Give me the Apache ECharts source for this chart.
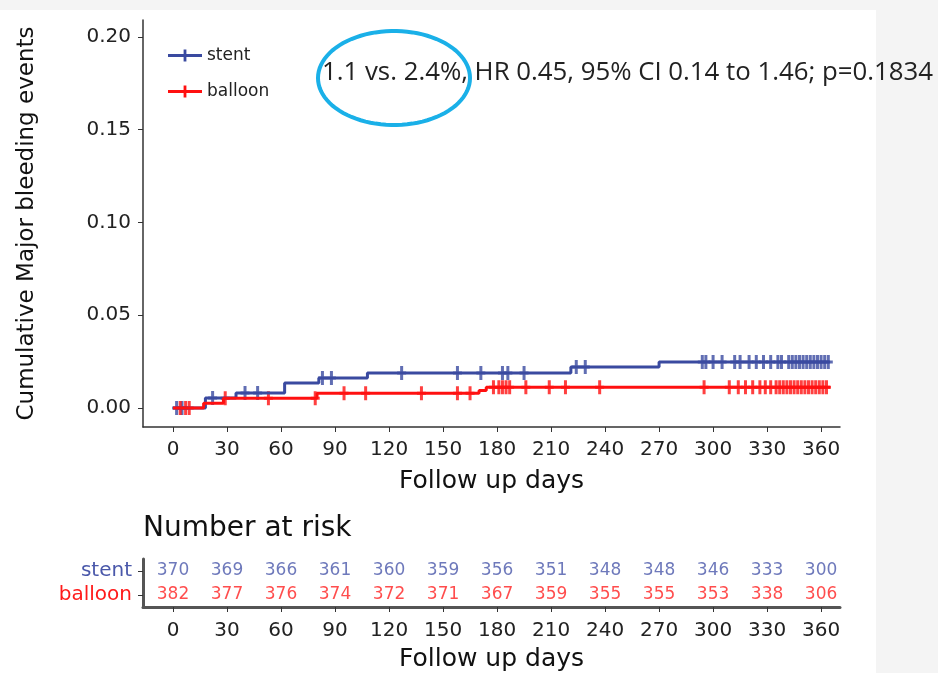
<!DOCTYPE html>
<html><head><meta charset="utf-8">
<script src="https://cdn.jsdelivr.net/npm/echarts@6/dist/echarts.min.js"></script>
<style>html,body{margin:0;padding:0;background:#f4f4f4;}#c{width:938px;height:673px;}</style>
</head><body><div id="c"></div>
<script>
// ---- data ----
var xTicks = [0,30,60,90,120,150,180,210,240,270,300,330,360];
var yTicks = [0,0.05,0.10,0.15,0.20];
var stentTimes  = [0, 18, 35, 62, 81, 108, 221, 270, 365];
var stentValues = [0, 0.0054, 0.0081, 0.0135, 0.0162, 0.0189, 0.0221, 0.0248, 0.0248];
var balloonTimes  = [0, 17, 28, 80, 170, 174, 365];
var balloonValues = [0, 0.0026, 0.0052, 0.0079, 0.0094, 0.0112, 0.0112];
var stentCensor = [2,5,22,40,47,83,88,127,158,171,183,186,195,224,229,294,296,300,305,312,315,320,324,328,332,336,338,342,344,346,348,350,352,354,356,358,360,362,364];
var balloonCensor = [4,7,9,29,53,79,95,107,138,158,165,178,181,183,185,187,196,209,218,237,295,309,314,318,322,326,329,332,335,337,339,341,343,345,347,349,351,353,355,357,359,361,363];
var riskTimes = [0,30,60,90,120,150,180,210,240,270,300,330,360];
var stentRisk   = [370,369,366,361,360,359,356,351,348,348,346,333,300];
var balloonRisk = [382,377,376,374,372,371,367,359,355,355,353,338,306];
var groups = ['balloon','stent'];

var BLUE = '#3a4aa0', RED = '#ff1010';
var FONT = 'DejaVu Sans';

function stepAt(times, values, t){
  var v = values[0];
  for (var i=0;i<times.length;i++){ if (times[i] <= t) v = values[i]; }
  return v;
}
function pairs(a,b){ return a.map(function(t,i){return [t,b[i]];}); }

var plus = 'path://M-1.5,-7H1.5V-1.5H4.5V1.5H1.5V7H-1.5V1.5H-4.5V-1.5H-1.5Z';
var legendIcon = 'path://M0,4.6H15.6V0H18.4V4.6H34V7.4H18.4V12H15.6V7.4H0Z';

var ell = [];
for (var k=0;k<=90;k++){ var a=k/90*2*Math.PI; ell.push([394+76*Math.cos(a), 78+47*Math.sin(a)]); }

var chart = echarts.init(document.getElementById('c'));
var riskData = [];
riskTimes.forEach(function(t,i){
  riskData.push({value:[t,'stent',stentRisk[i]], label:{color:'#4a58aa'}});
  riskData.push({value:[t,'balloon',balloonRisk[i]], label:{color:'#ff2020'}});
});

chart.setOption({
  animation:false,
  textStyle:{fontFamily:FONT},
  graphic:[
    {type:'rect', z:-10, shape:{x:0,y:10,width:876,height:663}, style:{fill:'#ffffff'}},
    {type:'polygon', z:10, shape:{points:ell}, style:{fill:'none', stroke:'#1ab0e8', lineWidth:4}},
    {type:'text', z:11, left:322, top:60, style:{text:'1.1 vs. 2.4%, HR 0.45, 95% CI 0.14 to 1.46; p=0.1834', font:'25.8px "Open Sans"', fill:'#222'}},
    {type:'text', z:11, left:143, top:515, style:{text:'Number at risk', font:'28px "DejaVu Sans"', fill:'#111'}}
  ],
  legend:{
    orient:'vertical', left:163, top:42, itemWidth:34, itemHeight:12, itemGap:19,
    textStyle:{fontSize:17, color:'#222', fontFamily:FONT},
    data:[{name:'stent', icon:legendIcon},{name:'balloon', icon:legendIcon}]
  },
  grid:[
    {left:143, top:20, width:697, height:407},
    {left:143, top:559, width:697, height:52}
  ],
  xAxis:[
    {gridIndex:0, type:'value', min:-16.67, max:370.5,
     axisLine:{show:true, onZero:false, lineStyle:{color:'#333', width:1.5}},
     axisTick:{show:true, customValues:xTicks, length:5, lineStyle:{color:'#333'}},
     axisLabel:{customValues:xTicks, fontSize:20, color:'#222', margin:13},
     splitLine:{show:false},
     name:'Follow up days', nameLocation:'middle', nameGap:42,
     nameTextStyle:{fontSize:25, color:'#111'}},
    {gridIndex:1, type:'value', min:-16.67, max:370.5, position:'bottom',
     axisLine:{show:true, onZero:false, lineStyle:{color:'#555', width:3}},
     axisTick:{show:true, customValues:xTicks, length:5, lineStyle:{color:'#333'}},
     axisLabel:{customValues:xTicks, fontSize:20, color:'#222', margin:14},
     splitLine:{show:false},
     name:'Follow up days', nameLocation:'middle', nameGap:40,
     nameTextStyle:{fontSize:25, color:'#111'}}
  ],
  yAxis:[
    {gridIndex:0, type:'value', min:-0.01024, max:0.20916,
     axisLine:{show:true, onZero:false, lineStyle:{color:'#333', width:1.5}},
     axisTick:{show:true, customValues:yTicks, length:5, lineStyle:{color:'#333'}},
     axisLabel:{customValues:yTicks, fontSize:20, color:'#222', margin:12, formatter:function(v){return v.toFixed(2);}},
     splitLine:{show:false},
     name:'Cumulative Major bleeding events', nameLocation:'middle', nameGap:104,
     nameTextStyle:{fontSize:23, color:'#111'}},
    {gridIndex:1, type:'category', data:groups,
     axisLine:{show:true, onZero:false, lineStyle:{color:'#555', width:3}},
     axisTick:{show:true, alignWithLabel:true, interval:0, length:5, lineStyle:{color:'#333'}},
     axisLabel:{interval:0, fontSize:20, margin:11, formatter:function(v){return '{'+v+'|'+v+'}';},
       rich:{stent:{color:'#4a58aa', fontSize:20, fontFamily:FONT}, balloon:{color:'#ff1a1a', fontSize:20, fontFamily:FONT}}}}
  ],
  series:[
    {name:'stent', type:'line', step:'end', xAxisIndex:0, yAxisIndex:0, data:pairs(stentTimes,stentValues),
     showSymbol:false, symbol:legendIcon, color:BLUE, lineStyle:{width:3, color:BLUE}},
    {name:'balloon', type:'line', step:'end', xAxisIndex:0, yAxisIndex:0, data:pairs(balloonTimes,balloonValues),
     showSymbol:false, symbol:legendIcon, color:RED, lineStyle:{width:3, color:RED}},
    {name:'stent censor', type:'scatter', xAxisIndex:0, yAxisIndex:0, symbol:plus, symbolSize:[9,14],
     itemStyle:{color:BLUE}, data:stentCensor.map(function(t){return [t, stepAt(stentTimes,stentValues,t)];})},
    {name:'balloon censor', type:'scatter', xAxisIndex:0, yAxisIndex:0, symbol:plus, symbolSize:[9,14],
     itemStyle:{color:RED}, data:balloonCensor.map(function(t){return [t, stepAt(balloonTimes,balloonValues,t)];})},
    {name:'risk', type:'scatter', xAxisIndex:1, yAxisIndex:1, symbolSize:0, data:riskData,
     label:{show:true, position:'inside', fontSize:17, fontFamily:FONT, formatter:function(p){return p.value[2];}}}
  ]
});
</script></body></html>
